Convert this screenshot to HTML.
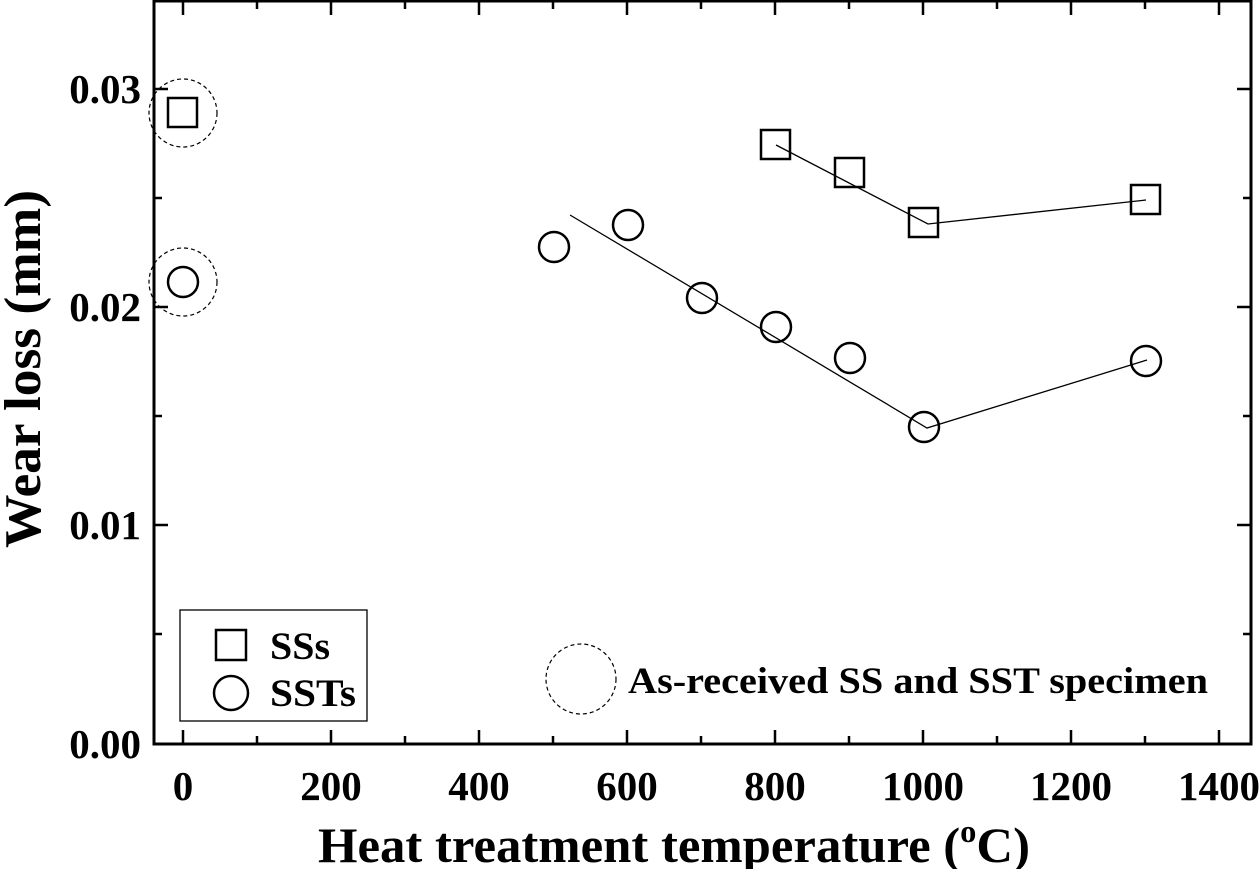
<!DOCTYPE html><html><head><style>body{margin:0;background:#fff}</style></head><body>
<svg width="1260" height="869" xmlns="http://www.w3.org/2000/svg" font-family="Liberation Serif, serif" font-weight="bold">
<rect x="154" y="1" width="1097" height="743" fill="none" stroke="#000" stroke-width="3"/>
<g stroke="#000" stroke-width="2.5">
<path d="M183 744v-14M331 744v-14M479 744v-14M627 744v-14M775 744v-14M923 744v-14M1071 744v-14M1219 744v-14"/>
<path d="M257 744v-8M405 744v-8M553 744v-8M701 744v-8M849 744v-8M997 744v-8M1145 744v-8"/>
<path d="M183 1v14M331 1v14M479 1v14M627 1v14M775 1v14M923 1v14M1071 1v14M1219 1v14"/>
<path d="M257 1v8M405 1v8M553 1v8M701 1v8M849 1v8M997 1v8M1145 1v8"/>
<path d="M154 525h14M154 307h14M154 89h14M154 634h8M154 416h8M154 198h8"/>
<path d="M1251 525h-14M1251 307h-14M1251 89h-14M1251 634h-8M1251 416h-8M1251 198h-8"/>
</g>
<g font-size="41" text-anchor="end">
<text x="141" y="758">0.00</text><text x="141" y="539">0.01</text><text x="141" y="321">0.02</text><text x="141" y="103">0.03</text>
</g>
<g font-size="41" text-anchor="middle">
<text x="183" y="800">0</text><text x="331" y="800">200</text><text x="479" y="800">400</text><text x="627" y="800">600</text><text x="775" y="800">800</text><text x="923" y="800">1000</text><text x="1071" y="800">1200</text><text x="1219" y="800">1400</text>
</g>
<text x="318" y="862" font-size="50" textLength="712" lengthAdjust="spacingAndGlyphs">Heat treatment temperature (<tspan font-size="32" dy="-20">o</tspan><tspan dy="20">C)</tspan></text>
<text transform="translate(40 548) rotate(-90)" font-size="52" textLength="358" lengthAdjust="spacingAndGlyphs">Wear loss (mm)</text>
<g fill="none" stroke="#000" stroke-width="1.3">
<polyline points="776,145 928,224 1146,200"/>
<polyline points="570,215 927,428 1147,360"/>
</g>
<g fill="none" stroke="#000" stroke-width="1.2" stroke-dasharray="4,3">
<circle cx="183" cy="113" r="34"/><circle cx="183" cy="282" r="34"/><circle cx="581" cy="679" r="35"/>
</g>
<g fill="none" stroke="#000" stroke-width="2.5">
<rect x="168" y="98" width="29" height="29"/>
<rect x="761" y="130" width="29" height="29"/><rect x="835" y="158" width="29" height="29"/><rect x="909" y="208" width="29" height="29"/><rect x="1131" y="185" width="29" height="29"/>
<circle cx="183" cy="282" r="15"/><circle cx="554" cy="247" r="15"/><circle cx="628" cy="225" r="15"/><circle cx="702" cy="298" r="15"/><circle cx="776" cy="327" r="15"/><circle cx="850" cy="358" r="15"/><circle cx="924" cy="427" r="15"/><circle cx="1146" cy="361" r="15"/>
</g>
<rect x="180" y="610" width="187" height="111" fill="none" stroke="#000" stroke-width="1.3"/>
<rect x="216" y="630" width="30" height="30" fill="none" stroke="#000" stroke-width="2.5"/>
<circle cx="231" cy="693" r="17" fill="none" stroke="#000" stroke-width="2.5"/>
<g font-size="39"><text x="270" y="659" textLength="60" lengthAdjust="spacingAndGlyphs">SSs</text><text x="270" y="706" textLength="86" lengthAdjust="spacingAndGlyphs">SSTs</text></g>
<text x="628" y="693" font-size="37" textLength="580" lengthAdjust="spacingAndGlyphs">As-received SS and SST specimen</text>
</svg></body></html>
